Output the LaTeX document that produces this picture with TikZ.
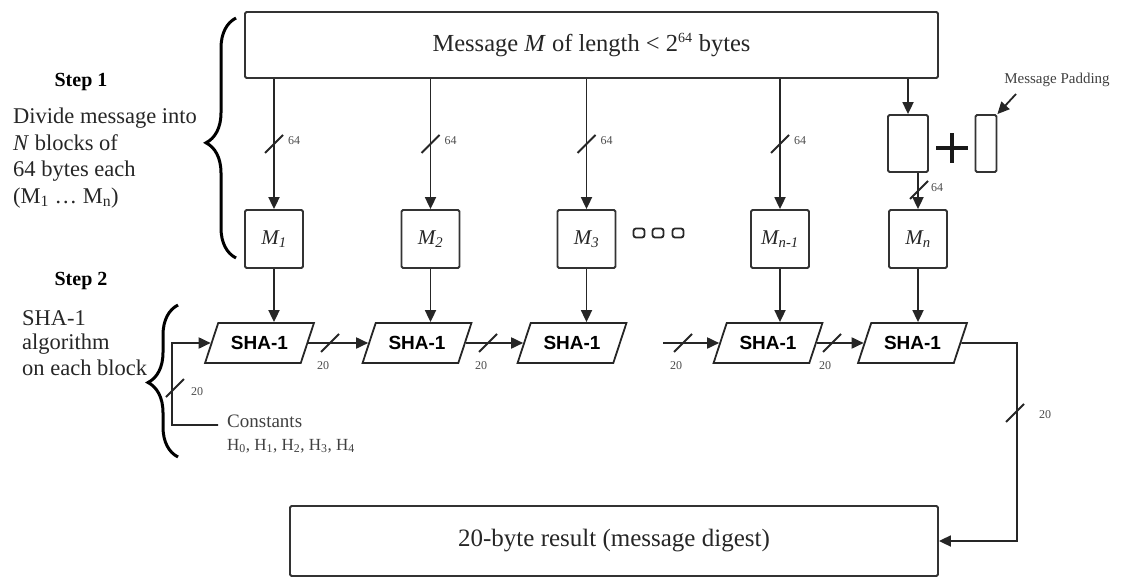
\documentclass[tikz,border=0pt]{standalone}
\usepackage{fontspec}
\setmainfont{Liberation Serif}
\newfontfamily\shafont{Liberation Sans}
\usetikzlibrary{shapes.geometric,arrows.meta,decorations.pathreplacing}
\begin{document}
\begin{tikzpicture}[x=1pt,y=-1pt,
 ln/.style={line width=1.8pt, draw=black!85},
 arr/.style={ln, -{Triangle[length=12pt,width=11pt]}},
 box/.style={draw=black!80, line width=1.8pt, rounded corners=1.5pt, inner sep=0pt},
 sha/.style={trapezium, trapezium left angle=56, trapezium right angle=124, trapezium stretches=true,
   minimum height=40pt, minimum width=109pt, draw=black!85, line width=1.8pt, inner sep=0pt,
   font=\shafont\bfseries\fontsize{19}{21}\selectfont},
 lbl/.style={font=\fontsize{22.5}{26}\selectfont, text=black!85, inner sep=0pt},
 small/.style={font=\fontsize{12}{14}\selectfont, text=black!70, inner sep=0pt},
 brc/.style={decorate, decoration={brace, amplitude=30pt, aspect=#1}, line width=3pt, draw=black},
 dotbox/.style={draw=black!85, line width=1.8pt, rounded corners=2.5pt, minimum width=11pt, minimum height=9pt, inner sep=0pt},
 bus/.pic={\draw[ln] (-9,9) -- (9,-9);}
]
\useasboundingbox (0,0) rectangle (1127,578);

% top message box
\node[box, text=black!85, font=\fontsize{24.5}{28}\selectfont, minimum width=693pt, minimum height=66pt] (msg) at (591.5,45)
  {Message \textit{M} of length < 2\textsuperscript{\fontsize{14}{14}\selectfont 64} bytes};

% M blocks
\foreach \n/\x/\s in {M1/274/1, M2/430.5/2, M3/586.5/3, Mm/780/n-1, Mn/918/n}
  \node[box, text=black!85, font=\fontsize{21}{24}\selectfont, minimum width=58pt, minimum height=58pt] (\n) at (\x,239)
    {\textit{M\textsubscript{\s}}};

% arrows from message to blocks with bus marks
\foreach \n/\x in {M1/274, M2/430.5, M3/586.5, Mm/780}{
  \draw[arr] (\n |- msg.south) -- (\n.north);
  \pic at (\x,144) {bus};
  \node[small, anchor=west] (l64\n) at (\x+14,141) {64};
}

% padding
\node[box, minimum width=40pt, minimum height=57pt] (pb) at (908,143.5) {};
\draw[arr] (pb |- msg.south) -- (pb.north);
\draw[arr] (Mn |- pb.south) -- (Mn.north);
\pic at (919,190) {bus};
\node[small, anchor=west] (l64Mn) at (931,188) {64};
\draw[line width=4pt, draw=black!90] (936,148) -- (968,148) (952,133) -- (952,163);
\node[box, minimum width=21pt, minimum height=57pt] (pad) at (986,143.5) {};
\node[anchor=base, font=\fontsize{15}{18}\selectfont, text=black!75, inner sep=0pt] (mpl) at (1057,83) {Message Padding};
\coordinate (mpa) at (1016,94);
\draw[arr] (mpa) -- (pad.north east);

% dots
\node[dotbox] (dt1) at (639,233) {};
\node[dotbox] (dt2) at (658,233) {};
\node[dotbox] (dt3) at (678,233) {};

% SHA-1 blocks
\foreach \n/\x in {1/259.5, 2/417, 3/572, 4/768, 5/912.5}
  \node[sha] (sha\n) at (\x,343) {SHA-1};
\draw[arr] (M1.south) -- (M1.south |- sha1.north);
\draw[arr] (M2.south) -- (M2.south |- sha2.north);
\draw[arr] (M3.south) -- (M3.south |- sha3.north);
\draw[arr] (Mm.south) -- (Mm.south |- sha4.north);
\draw[arr] (Mn.south) -- (Mn.south |- sha5.north);

% chaining
\draw[arr] (sha1.east) -- (sha2.west);
\draw[arr] (sha2.east) -- (sha3.west);
\coordinate (s4in) at (663,343);
\draw[arr] (s4in) -- (sha4.west);
\draw[arr] (sha4.east) -- (sha5.west);
\foreach \k/\x in {a/330, b/488, c/683, d/832}{
  \pic at (\x,343) {bus};
  \node[small] (l20\k) at (\x-7,366) {20};
}

% constants feedback
\coordinate (cst) at (218,425);
\coordinate (fb) at (172,343);
\draw[arr] (cst) -| (fb) -- (sha1.west);
\pic at (175,388) {bus};
\node[small] (l20e) at (197,392) {20};
\node[anchor=base west, font=\fontsize{19}{22}\selectfont, text=black!75, inner sep=0pt] (cons) at (227,427) {Constants};
\node[anchor=base west, font=\fontsize{17}{20}\selectfont, text=black!75, inner sep=0pt] (hs) at (227,450)
  {H\textsubscript{0}, H\textsubscript{1}, H\textsubscript{2}, H\textsubscript{3}, H\textsubscript{4}};

% result
\node[box, text=black!85, font=\fontsize{25}{28}\selectfont, minimum width=648pt, minimum height=70pt] (res) at (614,541)
  {20-byte result (message digest)};
\coordinate (rc) at (1017,343);
\draw[arr] (sha5.east) -- (rc) |- (res.east);
\pic at (1015,413) {bus};
\node[small] (l20f) at (1045,415) {20};

% braces
\draw[brc=0.48] (236,258) -- (236,18);
\draw[brc=0.49] (178,457) -- (178,305);

% step texts
\node[anchor=base, font=\bfseries\fontsize{20}{22}\selectfont, inner sep=0pt] (st1) at (81,86) {Step 1};
\node[anchor=base west, lbl] (d1) at (13,123) {Divide message into};
\node[anchor=base west, lbl] (d2) at (13,150) {\textit{N} blocks of};
\node[anchor=base west, lbl] (d3) at (13,176) {64 bytes each};
\node[anchor=base west, lbl] (d4) at (13,203) {(M\textsubscript{1} \dots\ M\textsubscript{n})};
\node[anchor=base, font=\bfseries\fontsize{20}{22}\selectfont, inner sep=0pt] (st2) at (81,285) {Step 2};
\node[anchor=base west, lbl] (e1) at (22,325) {SHA-1};
\node[anchor=base west, lbl] (e2) at (22,349) {algorithm};
\node[anchor=base west, lbl] (e3) at (22,375) {on each block};
\end{tikzpicture}
\end{document}
